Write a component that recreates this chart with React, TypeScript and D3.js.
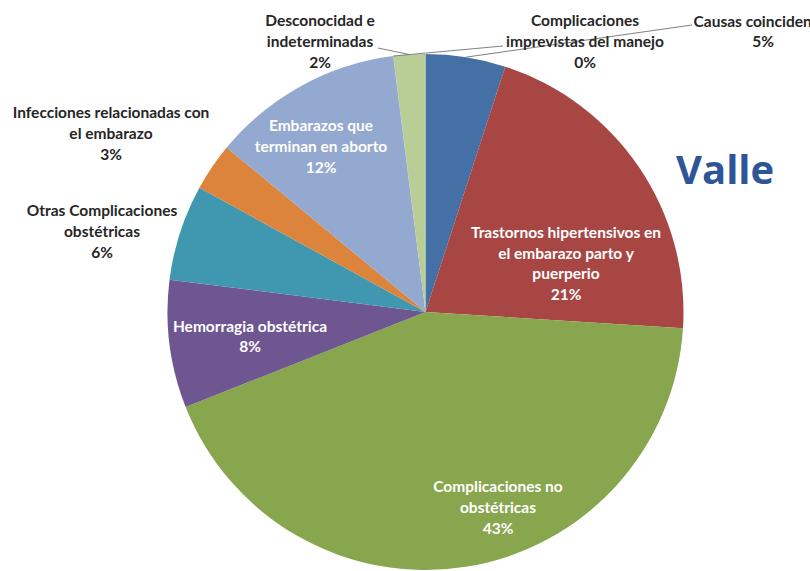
import React from "react";
import * as d3 from "d3";

const categories = [
  "Causas coincidentes",
  "Trastornos hipertensivos en el embarazo parto y puerperio",
  "Complicaciones no obstétricas",
  "Hemorragia obstétrica",
  "Otras Complicaciones obstétricas",
  "Infecciones relacionadas con el embarazo",
  "Embarazos que terminan en aborto",
  "Complicaciones imprevistas del manejo",
  "Desconocidad e indeterminadas",
];
const values = [5, 21, 43, 8, 6, 3, 12, 0, 2];
const colors = [
  "#4470A6",
  "#A84644",
  "#88A64E",
  "#6E5690",
  "#3F98AF",
  "#DC843C",
  "#93A9CF",
  "#B9A7A5",
  "#B8CE96",
];
// label text lines (excluding percentage)
const labelLines: string[][] = [
  ["Causas coincidentes"],
  ["Trastornos hipertensivos en", "el embarazo parto y", "puerperio"],
  ["Complicaciones no", "obstétricas"],
  ["Hemorragia obstétrica"],
  ["Otras Complicaciones", "obstétricas"],
  ["Infecciones relacionadas con", "el embarazo"],
  ["Embarazos que", "terminan en aborto"],
  ["Complicaciones", "imprevistas del manejo"],
  ["Desconocidad e", "indeterminadas"],
];
const inside = [false, true, true, true, false, false, true, false, false];
// label block centers (layout)
const labelPos: [number, number][] = [
  [763, 33],
  [566, 265],
  [498, 509],
  [250, 338],
  [102, 233],
  [111, 135],
  [321, 148],
  [585, 43],
  [320, 43],
];
// leader line start (near text), for outside labels with leaders
const leaderStart: ([number, number] | null)[] = [
  [692, 25],
  null,
  null,
  null,
  null,
  null,
  null,
  [503, 46],
  [378, 48],
];

const W = 810;
const H = 571;
const cx = 425.5;
const cy = 312;
const R = 258;

export default function App() {
  const total = d3.sum(values);
  const pie = d3
    .pie<number>()
    .sort(null)
    .value((d) => d)
    .startAngle(0)
    .endAngle(2 * Math.PI);
  const arcs = pie(values);
  const arc = d3.arc<d3.PieArcDatum<number>>().innerRadius(0).outerRadius(R);
  const lh = 20.7;

  return (
    <svg
      width={W}
      height={H}
      style={{ position: "absolute", left: 0, top: 0, background: "#fff" }}
      fontFamily="Lato, 'Open Sans', sans-serif"
    >
      <g transform={`translate(${cx},${cy})`}>
        {arcs.map((a, i) => (
          <path key={i} d={arc(a) || ""} fill={colors[i]} />
        ))}
      </g>
      {arcs.map((a, i) => {
        const s = leaderStart[i];
        if (!s) return null;
        const ang = (a.startAngle + a.endAngle) / 2;
        const ex = cx + R * Math.sin(ang);
        const ey = cy - R * Math.cos(ang);
        return (
          <line
            key={"l" + i}
            x1={s[0]}
            y1={s[1]}
            x2={ex}
            y2={ey}
            stroke="#808080"
            strokeWidth={1}
          />
        );
      })}
      {categories.map((c, i) => {
        const lines = [...labelLines[i], `${Math.round((values[i] / total) * 100)}%`];
        const [x, y] = labelPos[i];
        const y0 = y - ((lines.length - 1) * lh) / 2;
        return (
          <text
            key={"t" + i}
            x={x}
            textAnchor="middle"
            fontSize={15.5}
            fontWeight="bold"
            fill={inside[i] ? "#ffffff" : "#262626"}
          >
            {lines.map((ln, j) => (
              <tspan key={j} x={x} y={y0 + j * lh} dominantBaseline="middle">
                {ln}
              </tspan>
            ))}
          </text>
        );
      })}
      <text
        x={676}
        y={184}
        fontSize={40}
        fontWeight="bold"
        fill="#2E5597"
        fontFamily="'Open Sans', Lato, sans-serif"
      >
        Valle
      </text>
    </svg>
  );
}
